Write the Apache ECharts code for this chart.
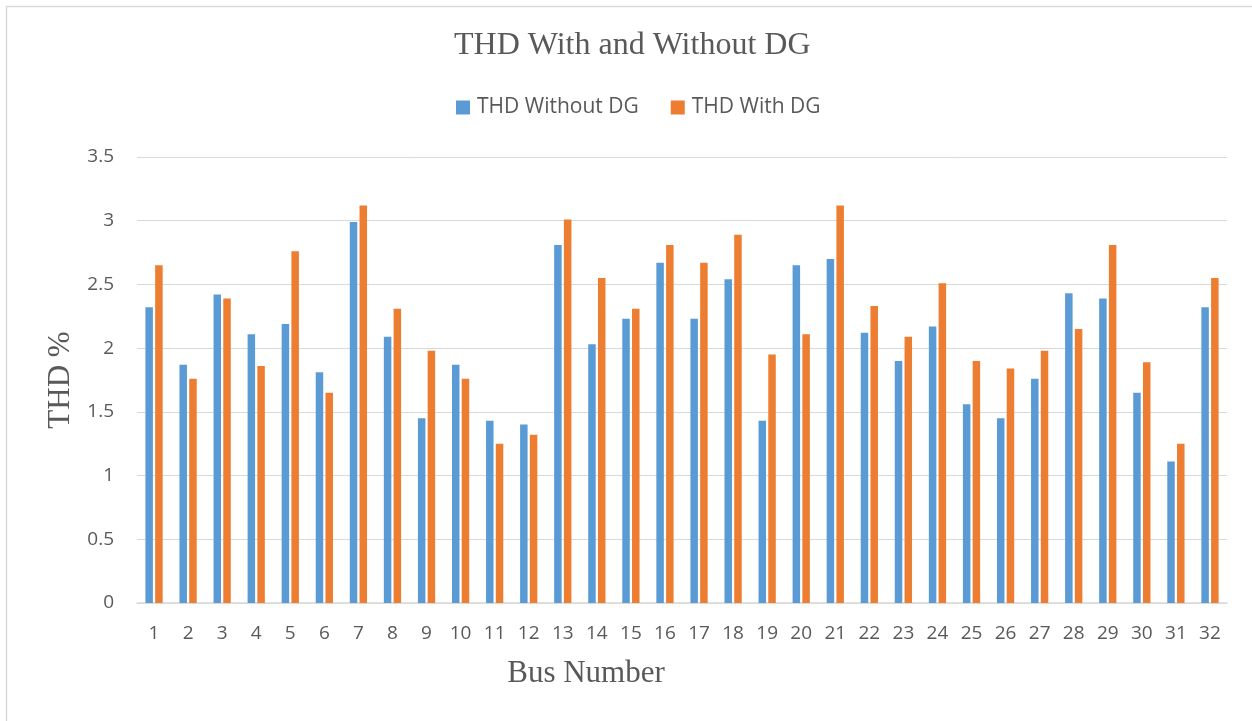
<!DOCTYPE html>
<html>
<head>
<meta charset="utf-8">
<script src="https://cdn.jsdelivr.net/npm/echarts@6/dist/echarts.min.js"></script>
<style>
html,body{margin:0;padding:0;background:#fff;}
#chart{width:1252px;height:721px;}
</style>
</head>
<body>
<div id="chart"></div>
<script>
const categories = ['1','2','3','4','5','6','7','8','9','10','11','12','13','14','15','16','17','18','19','20','21','22','23','24','25','26','27','28','29','30','31','32'];
const thdWithoutDG = [2.32,1.87,2.42,2.11,2.19,1.81,2.99,2.09,1.45,1.87,1.43,1.40,2.81,2.03,2.23,2.67,2.23,2.54,1.43,2.65,2.70,2.12,1.90,2.17,1.56,1.45,1.76,2.43,2.39,1.65,1.11,2.32];
const thdWithDG = [2.65,1.76,2.39,1.86,2.76,1.65,3.12,2.31,1.98,1.76,1.25,1.32,3.01,2.55,2.31,2.81,2.67,2.89,1.95,2.11,3.12,2.33,2.09,2.51,1.90,1.84,1.98,2.15,2.81,1.89,1.25,2.55];
const yTicks = [0, 0.5, 1, 1.5, 2, 2.5, 3, 3.5];

const chart = echarts.init(document.getElementById('chart'));
const textColor = '#595959';
const serif = '"Liberation Serif", "DejaVu Serif", serif';
const sans = '"Open Sans", "Noto Sans", sans-serif';

chart.setOption({
  animation: false,
  backgroundColor: '#ffffff',
  graphic: [{
    type: 'rect',
    shape: { x: 6.5, y: 6.5, width: 1260, height: 730 },
    style: { fill: 'none', stroke: '#d9d9d9', lineWidth: 1.5 },
    silent: true
  }],
  title: {
    text: 'THD With and Without DG',
    left: 449,
    top: 25,
    textStyle: { fontFamily: serif, fontSize: 32, fontWeight: 'normal', color: textColor }
  },
  legend: {
    top: 92,
    left: 451,
    itemWidth: 14,
    itemHeight: 14,
    itemGap: 32,
    icon: 'rect',
    textStyle: { fontFamily: sans, fontSize: 21, color: textColor, padding: [0, 0, 0, 2] },
    data: ['THD Without DG', 'THD With DG']
  },
  grid: { left: 137, right: 25, top: 157, bottom: 118, containLabel: false },
  xAxis: {
    type: 'category',
    data: categories,
    name: 'Bus Number',
    nameLocation: 'middle',
    nameGap: 55,
    nameTextStyle: { fontFamily: serif, fontSize: 31, color: textColor, padding: [0, 192, 0, 0] },
    axisLine: { lineStyle: { color: '#d9d9d9', width: 1.5 } },
    axisTick: { show: false },
    axisLabel: { fontFamily: sans, fontSize: 19, color: textColor, margin: 21 }
  },
  yAxis: {
    type: 'value',
    min: 0,
    max: 3.5,
    interval: 0.5,
    name: 'THD %',
    nameLocation: 'middle',
    nameGap: 59,
    nameRotate: 90,
    nameTextStyle: { fontFamily: serif, fontSize: 31, color: textColor },
    axisLine: { show: false },
    axisTick: { show: false },
    splitLine: { lineStyle: { color: '#d9d9d9', width: 1 } },
    axisLabel: {
      fontFamily: sans, fontSize: 19, color: textColor, margin: 23,
      formatter: function (v) { return yTicks.indexOf(v) >= 0 ? String(v) : ''; }
    }
  },
  series: [
    {
      name: 'THD Without DG',
      type: 'bar',
      data: thdWithoutDG,
      barWidth: 7.5,
      barGap: '30%',
      itemStyle: { color: '#5B9BD5' }
    },
    {
      name: 'THD With DG',
      type: 'bar',
      data: thdWithDG,
      barWidth: 7.5,
      barGap: '30%',
      itemStyle: { color: '#ED7D31' }
    }
  ]
});
</script>
</body>
</html>
